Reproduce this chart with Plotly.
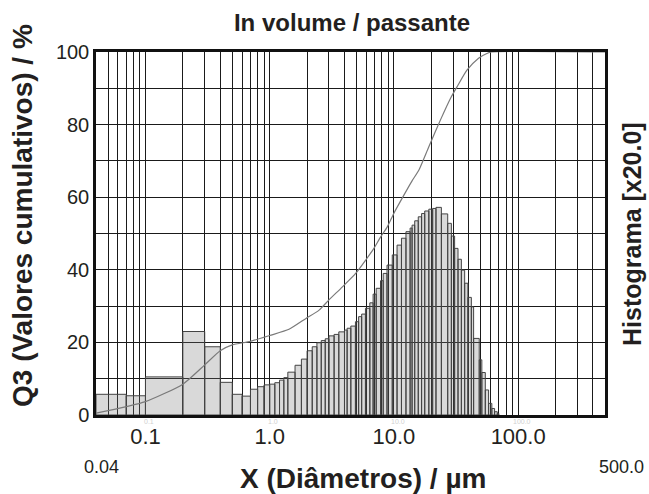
import plotly.graph_objects as go
import math

# Histogram class edges (µm) and heights (same 0-100 scale as plot)
bin_edges = [0.04, 0.07, 0.1, 0.2, 0.3, 0.4, 0.5, 0.6, 0.7, 0.8,
             0.9, 1.0, 1.1, 1.2, 1.3, 1.4, 1.6, 1.8, 2.0, 2.2,
             2.4, 2.6, 2.8, 3.0, 3.3, 3.6, 4.0, 4.2, 4.5, 4.9,
             5.2, 5.5, 5.9, 6.4, 6.8, 7.2, 7.8, 8.2, 8.8, 9.7,
             10.6, 11.5, 12.5, 13.5, 14.0, 14.7, 15.7, 16.7, 17.7, 19.1,
             20.5, 21.8, 24.1, 27.1, 29.0, 30.8, 32.8, 34.9, 37.1, 39.4,
             42.0, 43.8, 48.6, 51.0, 54.4, 57.8, 61.4, 64.6, 67.9, 70.0]
hist_values = [5.7, 5.3, 10.5, 23.0, 18.8, 9.0, 5.7, 5.2, 7.1, 7.8,
               8.3, 8.5, 8.9, 9.6, 10.3, 11.8, 13.7, 15.4, 17.7, 18.8,
               19.9, 20.5, 21.0, 21.8, 22.2, 22.9, 23.4, 23.9, 24.5, 25.7,
               27.1, 27.8, 29.4, 30.9, 33.3, 34.9, 37.0, 39.0, 41.3, 44.1,
               46.8, 48.7, 50.5, 51.5, 52.3, 53.5, 54.6, 55.5, 56.2, 56.7,
               56.9, 57.2, 55.4, 52.8, 49.3, 45.9, 42.9, 39.9, 36.3, 32.4,
               29.8, 21.1, 15.2, 11.7, 6.9, 3.2, 1.8, 0.9, 0.4]

# Cumulative curve (Q3, %)
cum_x = [0.04, 0.1, 0.2, 0.3, 0.4, 0.5, 0.7, 1.0, 1.43, 1.96, 2.5, 3.0, 3.85, 4.92,
         5.93, 6.9, 7.8, 8.8, 10.0, 12.0, 14.0, 15.9, 19.1, 23.7, 28.5, 32.2, 38.7,
         48.0, 56.0, 61.0, 500.0]
cum_y = [0.5, 3.7, 8.5, 13.8, 17.7, 19.3, 20.3, 21.9, 23.6, 26.6, 28.9, 31.7, 35.3, 39.0,
         42.7, 45.9, 49.0, 51.7, 55.6, 60.5, 64.5, 67.5, 73.9, 81.3, 87.2, 90.4, 95.0,
         98.3, 99.6, 100.0, 100.0]

# Axis grid / ticks
x_grid = [0.05, 0.06, 0.07, 0.08, 0.09, 0.1, 0.2, 0.3, 0.4, 0.5, 0.6, 0.7, 0.8, 0.9,
          1, 2, 3, 4, 5, 6, 7, 8, 9, 10, 20, 30, 40, 50, 60, 70, 80, 90,
          100, 200, 300, 400]
x_labels = {0.1: "0.1", 1: "1.0", 10: "10.0", 100: "100.0"}
y_grid = [0, 10, 20, 30, 40, 50, 60, 70, 80, 90, 100]
y_labels = {0: "0", 20: "20", 40: "40", 60: "60", 80: "80", 100: "100"}
faint_labels = {0.1: "0.1", 1: "1.0", 10: "10.0", 100: "100.0"}

FONT = "Arial, Liberation Sans, sans-serif"
TXT = "#231f20"

# Build bar polygons
bx, by = [], []
for i, h in enumerate(hist_values):
    x0, x1 = bin_edges[i], bin_edges[i + 1]
    bx += [x0, x0, x1, x1, x0, None]
    by += [0, h, h, 0, 0, None]

fig = go.Figure()
fig.add_trace(go.Scatter(
    x=bx, y=by, mode="lines", fill="toself",
    fillcolor="rgba(120,120,120,0.28)",
    line=dict(color="#444444", width=1),
    hoverinfo="skip", showlegend=False))
fig.add_trace(go.Scatter(
    x=cum_x, y=cum_y, mode="lines",
    line=dict(color="#7a7a7a", width=1.2, shape="spline", smoothing=0.6),
    showlegend=False))

fig.update_layout(
    width=649, height=494,
    margin=dict(l=96, r=44, t=52, b=79),
    paper_bgcolor="white", plot_bgcolor="white",
    font=dict(family=FONT, color=TXT),
    title=dict(text="<b>In volume / passante</b>", x=352 / 649, xref="container",
               y=1 - 23 / 494, yref="container", xanchor="center", yanchor="middle",
               font=dict(size=24, family=FONT, color=TXT)),
)
fig.update_xaxes(
    type="log", range=[math.log10(0.04), math.log10(500)],
    tickmode="array", tickvals=x_grid,
    ticktext=[x_labels.get(v, "") for v in x_grid],
    showgrid=True, gridcolor="#1a1a1a", gridwidth=1,
    showline=True, linecolor="#111", linewidth=2.5, mirror=True,
    ticks="", tickfont=dict(size=22, family=FONT, color=TXT),
    zeroline=False,
)
fig.update_yaxes(
    range=[0, 100], tickmode="array", tickvals=y_grid,
    ticktext=[y_labels.get(v, "") for v in y_grid],
    showgrid=True, gridcolor="#1a1a1a", gridwidth=1,
    showline=True, linecolor="#111", linewidth=2.5, mirror=True,
    ticks="", tickfont=dict(size=20, family=FONT, color=TXT),
    zeroline=False,
)

def px(xp):
    return (xp - 96) / 509.0

def py(yp):
    return (415 - yp) / 363.0

ann = [
    dict(text="<b>X (Diâmetros) / µm</b>", x=px(363), y=py(478), size=28, angle=0),
    dict(text="<b>Q3 (Valores cumulativos) / %</b>", x=px(22), y=py(216), size=28, angle=-90),
    dict(text="<b>Histograma [x20.0]</b>", x=px(632), y=py(234), size=25, angle=-90),
    dict(text="0.04", x=px(101), y=py(467), size=18, angle=0),
    dict(text="500.0", x=px(621), y=py(467), size=18, angle=0),
]
for a in ann:
    fig.add_annotation(text=a["text"], x=a["x"], y=a["y"], xref="paper", yref="paper",
                       showarrow=False, textangle=a["angle"], xanchor="center", yanchor="middle",
                       font=dict(size=a["size"], family=FONT, color=TXT))

# faint small duplicate labels just under the axis (as in the source image)
for v, t in faint_labels.items():
    fig.add_annotation(text=t, x=math.log10(v) + 0.03, y=py(421), xref="x", yref="paper",
                       showarrow=False, xanchor="center", yanchor="middle",
                       font=dict(size=7, family=FONT, color="#d0d0d0"))

fig.write_html("out.html")
